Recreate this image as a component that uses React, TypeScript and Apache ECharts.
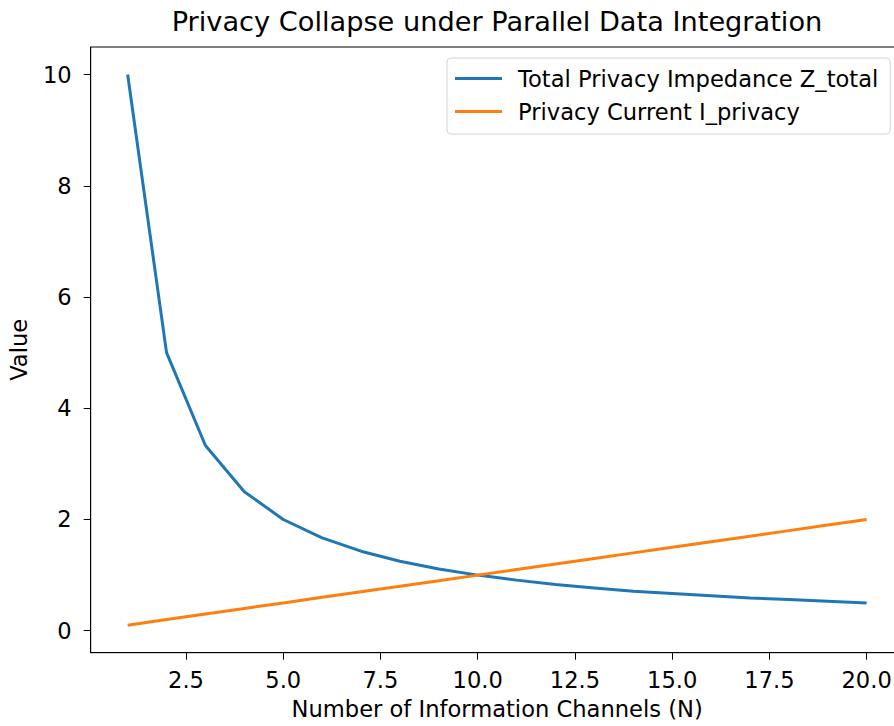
import React, { useEffect, useRef } from "react";
import * as echarts from "echarts";

const channels = [1, 2, 3, 4, 5, 6, 7, 8, 9, 10, 11, 12, 13, 14, 15, 16, 17, 18, 19, 20];
const impedance = [10, 5, 3.33, 2.5, 2.0, 1.67, 1.43, 1.25, 1.11, 1.0, 0.91, 0.83, 0.77, 0.71, 0.67, 0.63, 0.59, 0.56, 0.53, 0.5];
const current = [0.1, 0.2, 0.3, 0.4, 0.5, 0.6, 0.7, 0.8, 0.9, 1.0, 1.1, 1.2, 1.3, 1.4, 1.5, 1.6, 1.7, 1.8, 1.9, 2.0];
const xTicks = [2.5, 5.0, 7.5, 10.0, 12.5, 15.0, 17.5, 20.0];
const yTicks = [0, 2, 4, 6, 8, 10];
const seriesNames = ["Total Privacy Impedance Z_total", "Privacy Current I_privacy"];
const titleText = "Privacy Collapse under Parallel Data Integration";
const xName = "Number of Information Channels (N)";
const yName = "Value";

const FONT = "DejaVu Sans";
const FS = 22.6;

export default function App() {
  const ref = useRef<HTMLDivElement>(null);
  useEffect(() => {
    if (!ref.current) return;
    const chart = echarts.init(ref.current, null, { renderer: "svg" });
    const axisCommon = {
      axisLine: { show: true, onZero: false, lineStyle: { color: "#000", width: 1 } },
      splitLine: { show: false },
    };
    chart.setOption({
      animation: false,
      backgroundColor: "#fff",
      title: {
        text: titleText,
        left: 497,
        top: 8,
        padding: 0,
        textAlign: "center",
        textStyle: { fontFamily: FONT, fontSize: 27.2, fontWeight: "normal", color: "#000" },
      },
      grid: {
        left: 90.7,
        top: 47,
        width: 812.9,
        height: 605.7,
        outerBoundsMode: "none",
        containLabel: false,
        show: true,
        borderColor: "#000",
        borderWidth: 1,
        backgroundColor: "transparent",
      },
      legend: {
        orient: "vertical",
        left: 447,
        top: 58,
        padding: [9, 12, 11, 8],
        itemGap: 10,
        itemWidth: 47,
        itemHeight: 3,
        icon: "rect",
        backgroundColor: "rgba(255,255,255,0.8)",
        borderColor: "#d4d4d4",
        borderWidth: 1,
        borderRadius: 4,
        textStyle: {
          fontFamily: FONT,
          fontSize: FS,
          color: "#000",
          lineHeight: 21,
          padding: [0, 0, 0, 11],
        },
        data: seriesNames,
      },
      xAxis: {
        type: "value",
        min: 0.05,
        max: 20.95,
        ...axisCommon,
        name: xName,
        nameLocation: "middle",
        nameGap: 45,
        nameTextStyle: { fontFamily: FONT, fontSize: FS, color: "#000" },
        axisTick: { show: true, length: 7, lineStyle: { color: "#000" }, customValues: xTicks },
        axisLabel: {
          show: true,
          margin: 16,
          fontFamily: FONT,
          fontSize: FS,
          color: "#000",
          customValues: xTicks,
          formatter: (v: number) => v.toFixed(1),
        },
      },
      yAxis: {
        type: "value",
        min: -0.395,
        max: 10.495,
        ...axisCommon,
        name: yName,
        nameLocation: "middle",
        nameGap: 60,
        nameTextStyle: { fontFamily: FONT, fontSize: FS, color: "#000" },
        axisTick: { show: true, length: 7, lineStyle: { color: "#000" }, customValues: yTicks },
        axisLabel: {
          show: true,
          margin: 19,
          fontFamily: FONT,
          fontSize: FS,
          color: "#000",
          customValues: yTicks,
          formatter: (v: number) => String(Math.round(v)),
        },
      },
      series: [
        {
          name: seriesNames[0],
          type: "line",
          data: channels.map((n, i) => [n, impedance[i]]),
          symbol: "none",
          lineStyle: { color: "#1f77b4", width: 3 },
          itemStyle: { color: "#1f77b4" },
          z: 2,
        },
        {
          name: seriesNames[1],
          type: "line",
          data: channels.map((n, i) => [n, current[i]]),
          symbol: "none",
          lineStyle: { color: "#ff7f0e", width: 3 },
          itemStyle: { color: "#ff7f0e" },
          z: 3,
        },
      ],
    });
    return () => chart.dispose();
  }, []);
  return (
    <div
      ref={ref}
      style={{ position: "absolute", left: 0, top: 0, width: 894, height: 726 }}
    />
  );
}
